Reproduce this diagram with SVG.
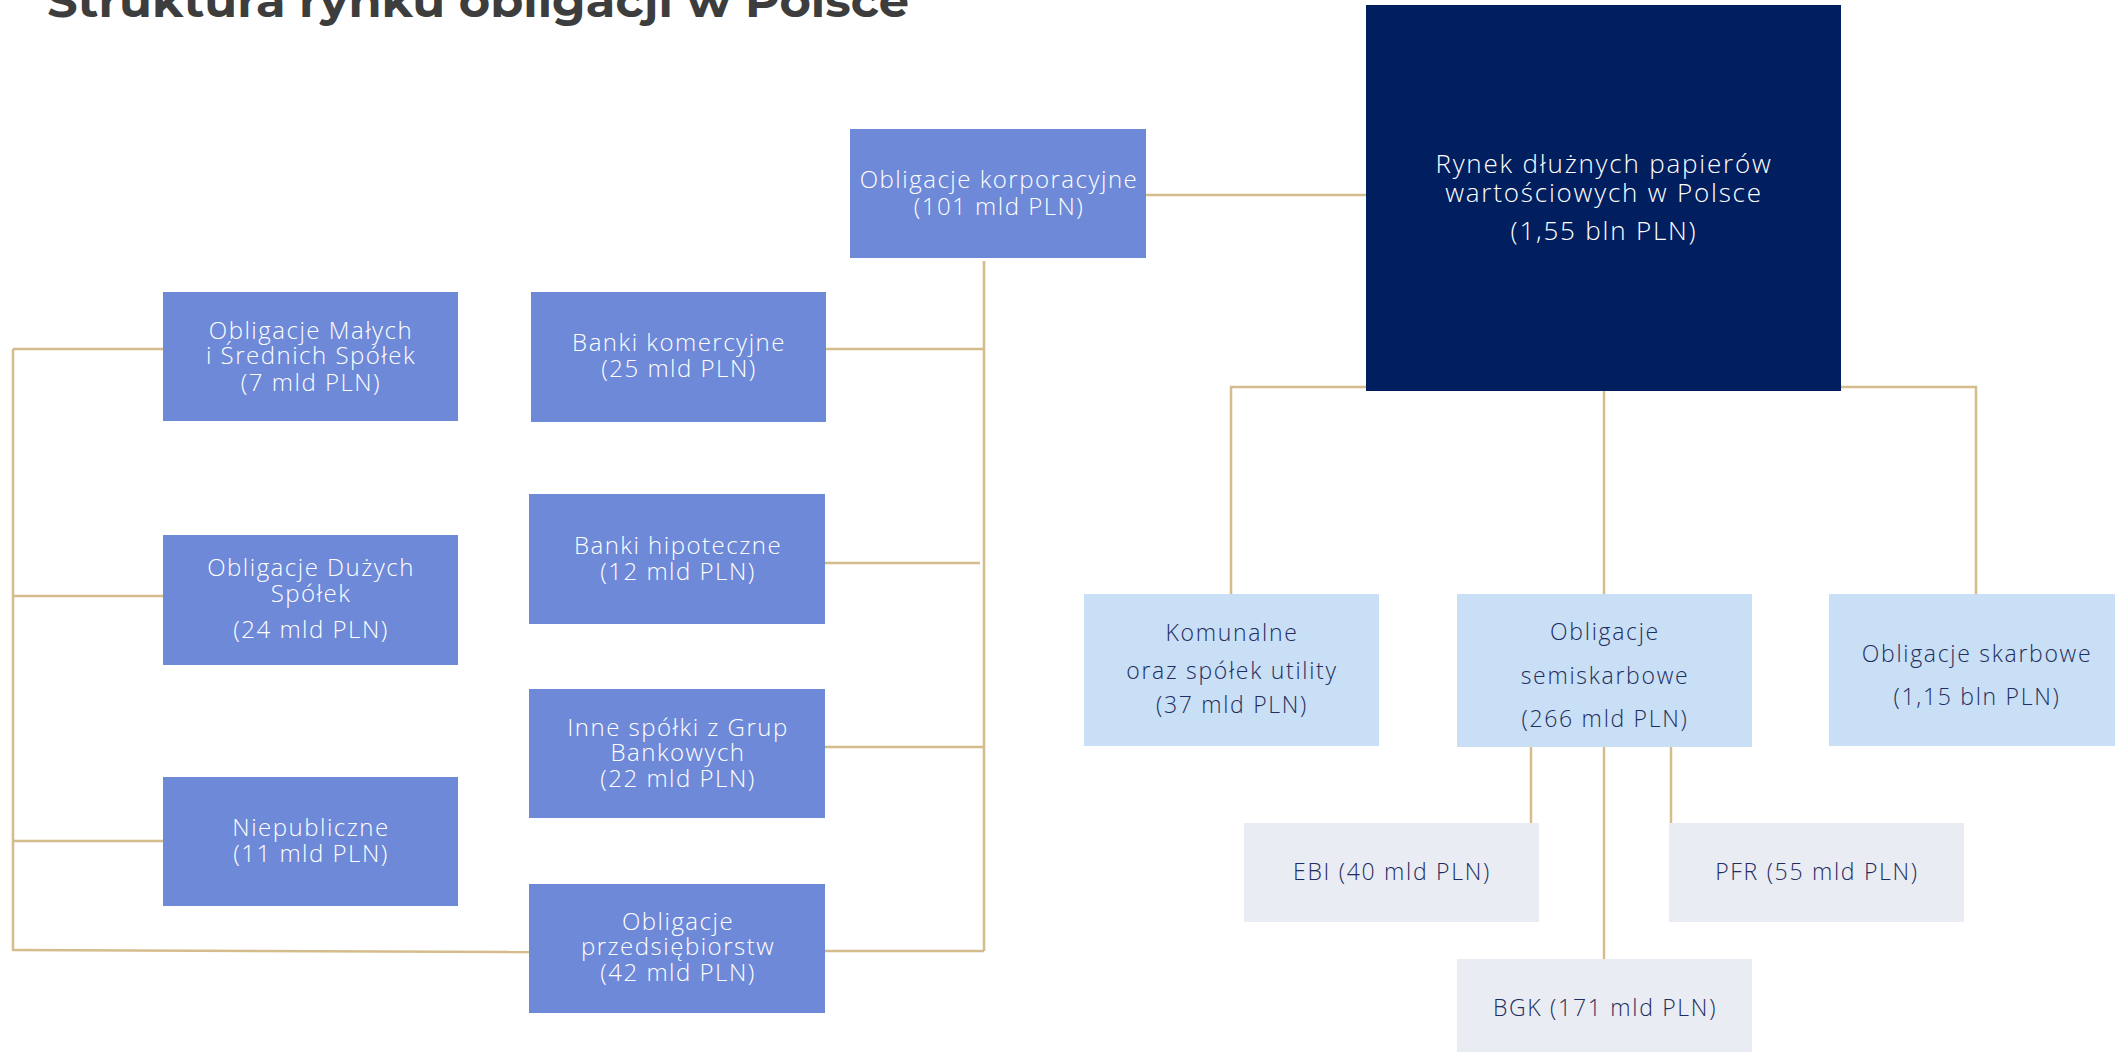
<svg xmlns="http://www.w3.org/2000/svg" width="2115" height="1052" viewBox="0 0 2115 1052">
<style>
.t{font-family:"Open Sans","Liberation Sans",sans-serif;font-weight:300;text-anchor:middle}
.w{fill:#ffffff;font-size:24px;letter-spacing:1.5px}
.d{fill:#1f2e60;font-size:23px;letter-spacing:1.7px}
.m{fill:#ffffff;font-size:26px;letter-spacing:1.8px}
.mid{fill:#6e89d8}
.lb{fill:#c9dff5}
.gr{fill:#e9edf3}
.c{stroke:#d4bc8c;stroke-width:2.5;fill:none}
</style>
<rect width="2115" height="1052" fill="#ffffff"/>
<text x="47" y="17" font-family="Montserrat,'Open Sans','Liberation Sans',sans-serif" font-weight="700" font-size="46" fill="#3d3d3d" textLength="862" lengthAdjust="spacingAndGlyphs">Struktura rynku obligacji w Polsce</text>
<g id="connectors">
<line class="c" x1="1146" y1="195" x2="1366" y2="195"/>
<line class="c" x1="984" y1="261" x2="984" y2="951"/>
<line class="c" x1="826" y1="349" x2="984" y2="349"/>
<line class="c" x1="825" y1="563" x2="980" y2="563"/>
<line class="c" x1="825" y1="747" x2="984" y2="747"/>
<line class="c" x1="825" y1="951" x2="984" y2="951"/>
<line class="c" x1="13" y1="349" x2="13" y2="951"/>
<line class="c" x1="13" y1="349" x2="163" y2="349"/>
<line class="c" x1="13" y1="596" x2="163" y2="596"/>
<line class="c" x1="13" y1="841" x2="163" y2="841"/>
<line class="c" x1="13" y1="950" x2="529" y2="952"/>
<polyline class="c" points="1366,387 1231,387 1231,594"/>
<polyline class="c" points="1841,387 1976,387 1976,594"/>
<line class="c" x1="1604" y1="391" x2="1604" y2="594"/>
<line class="c" x1="1531" y1="747" x2="1531" y2="823"/>
<line class="c" x1="1671" y1="747" x2="1671" y2="823"/>
<line class="c" x1="1604" y1="747" x2="1604" y2="959"/>
</g>
<g id="main">
<rect x="1366" y="5" width="475" height="386" fill="#011e5f"/>
<text class="t m" x="1604" y="173">Rynek dłużnych papierów</text>
<text class="t m" x="1604" y="202">wartościowych w Polsce</text>
<text class="t m" x="1604" y="240">(1,55 bln PLN)</text>
</g>
<g id="korporacyjne">
<rect class="mid" x="850" y="129" width="296" height="129"/>
<text class="t w" x="999" y="188">Obligacje korporacyjne</text>
<text class="t w" x="999" y="215">(101 mld PLN)</text>
</g>
<g id="msp">
<rect class="mid" x="163" y="292" width="295" height="129"/>
<text class="t w" x="311" y="339">Obligacje Małych</text>
<text class="t w" x="311" y="364">i Średnich Spółek</text>
<text class="t w" x="311" y="391">(7 mld PLN)</text>
</g>
<g id="banki-komercyjne">
<rect class="mid" x="531" y="292" width="295" height="130"/>
<text class="t w" x="679" y="351">Banki komercyjne</text>
<text class="t w" x="679" y="377">(25 mld PLN)</text>
</g>
<g id="duze">
<rect class="mid" x="163" y="535" width="295" height="130"/>
<text class="t w" x="311" y="576">Obligacje Dużych</text>
<text class="t w" x="311" y="602">Spółek</text>
<text class="t w" x="311" y="638">(24 mld PLN)</text>
</g>
<g id="banki-hipoteczne">
<rect class="mid" x="529" y="494" width="296" height="130"/>
<text class="t w" x="678" y="554">Banki hipoteczne</text>
<text class="t w" x="678" y="580">(12 mld PLN)</text>
</g>
<g id="inne">
<rect class="mid" x="529" y="689" width="296" height="129"/>
<text class="t w" x="678" y="736">Inne spółki z Grup</text>
<text class="t w" x="678" y="761">Bankowych</text>
<text class="t w" x="678" y="787">(22 mld PLN)</text>
</g>
<g id="niepubliczne">
<rect class="mid" x="163" y="777" width="295" height="129"/>
<text class="t w" x="311" y="836">Niepubliczne</text>
<text class="t w" x="311" y="862">(11 mld PLN)</text>
</g>
<g id="przedsiebiorstw">
<rect class="mid" x="529" y="884" width="296" height="129"/>
<text class="t w" x="678" y="930">Obligacje</text>
<text class="t w" x="678" y="955">przedsiębiorstw</text>
<text class="t w" x="678" y="981">(42 mld PLN)</text>
</g>
<g id="komunalne">
<rect class="lb" x="1084" y="594" width="295" height="152"/>
<text class="t d" x="1232" y="641">Komunalne</text>
<text class="t d" x="1232" y="679">oraz spółek utility</text>
<text class="t d" x="1232" y="713">(37 mld PLN)</text>
</g>
<g id="semiskarbowe">
<rect class="lb" x="1457" y="594" width="295" height="153"/>
<text class="t d" x="1605" y="640">Obligacje</text>
<text class="t d" x="1605" y="684">semiskarbowe</text>
<text class="t d" x="1605" y="727">(266 mld PLN)</text>
</g>
<g id="skarbowe">
<rect class="lb" x="1829" y="594" width="295" height="152"/>
<text class="t d" x="1977" y="662">Obligacje skarbowe</text>
<text class="t d" x="1977" y="705">(1,15 bln PLN)</text>
</g>
<g id="ebi">
<rect class="gr" x="1244" y="823" width="295" height="99"/>
<text class="t d" x="1392" y="880">EBI (40 mld PLN)</text>
</g>
<g id="pfr">
<rect class="gr" x="1669" y="823" width="295" height="99"/>
<text class="t d" x="1817" y="880">PFR (55 mld PLN)</text>
</g>
<g id="bgk">
<rect class="gr" x="1457" y="959" width="295" height="100"/>
<text class="t d" x="1605" y="1016">BGK (171 mld PLN)</text>
</g>
</svg>
